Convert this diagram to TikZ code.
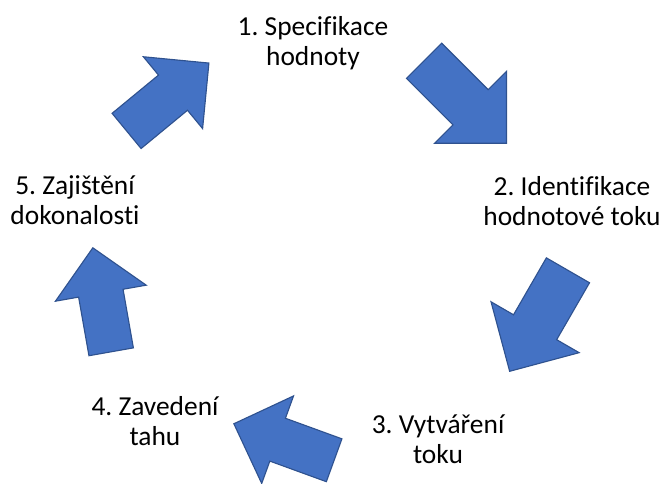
\documentclass[tikz,border=0pt]{standalone}
\usepackage{fontspec}
\setmainfont{Carlito}[Ligatures=NoCommon]
\frenchspacing
\definecolor{arrowblue}{HTML}{4472C4}
\definecolor{arrowedge}{HTML}{2F528F}

\begin{document}
\begin{tikzpicture}[x=0.025cm, y=0.025cm,
  stage/.style={align=center, inner sep=0pt, font=\fontsize{19.5}{21.3}\selectfont},
  pics/blockarrow/.style={code={
    \draw[fill=arrowblue, draw=arrowedge, line width=0.8pt, line join=miter]
      (-55,-23.5) -- (7,-23.5) -- (7,-48) -- (55,0) -- (7,48) -- (7,23.5)
      -- (-55,23.5) -- cycle;
  }}]
  \useasboundingbox (0,0) rectangle (664,483);
  % ---------- stages ----------
  \node[stage] (spec)   at (313,440)   {1. Specifikace\\hodnoty};
  \node[stage] (ident)  at (572,282)   {2. Identifikace\\hodnotové toku};
  \node[stage] (vytv)   at (438,44)    {3. Vytváření\\toku};
  \node[stage] (zaved)  at (155,62)    {4. Zavedení\\tahu};
  \node[stage] (zajist) at (75,282.5)  {5. Zajištění\\dokonalosti};
  % ---------- arrows ----------
  \pic[rotate=39.5, scale=0.97]  at (167.75,386) {blockarrow};
  \pic[rotate=-45, scale=1.06]   at (465.3,381)  {blockarrow};
  \pic[rotate=-120, scale=1.06]  at (538.8,162.2) {blockarrow};
  \pic[rotate=160, scale=0.97]   at (284,41)     {blockarrow};
  \pic[rotate=100, scale=0.96]   at (102,183.2)  {blockarrow};
\end{tikzpicture}
\end{document}
